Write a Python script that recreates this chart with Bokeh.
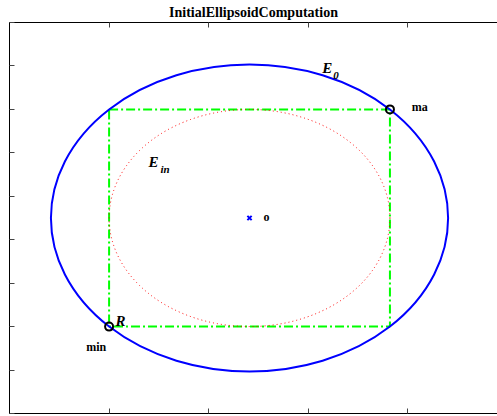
import numpy as np
from bokeh.plotting import figure
from bokeh.models import LinearAxis, FixedTicker, Range1d, CustomJSTickFormatter
from bokeh.core.properties import value
from bokeh.embed import file_html
from bokeh.resources import INLINE

# ---- data ----
title_text = "InitialEllipsoidComputation"
center_xy = [2.41, 4.5]          # ellipsoid centre "o"
min_xy = [1.0, 2.0]              # bounding box min corner
max_xy = [3.82, 7.0]             # bounding box max corner
x_ticks = [0, 1, 2, 3, 4]
y_ticks = [0, 1, 2, 3, 4, 5, 6, 7, 8, 9]
x_limits = [0, 4.9]
y_limits = [0, 9.0]

point_labels = ["ma", "min", "o"]
point_label_x = [4.04, 0.77, 2.55]
point_label_y = [7.06, 1.53, 4.53]

# ---- derived geometry ----
box_w = max_xy[0] - min_xy[0]
box_h = max_xy[1] - min_xy[1]
inner_w, inner_h = box_w, box_h
outer_w, outer_h = box_w * np.sqrt(2), box_h * np.sqrt(2)

serif = value("Liberation Serif")

p = figure(width=497, height=416, output_backend="svg", toolbar_location=None,
           x_range=Range1d(*x_limits), y_range=Range1d(*y_limits),
           min_border_left=9, min_border_right=0, min_border_bottom=3, min_border_top=22,
           title=title_text)
p.title.align = "center"
p.title.text_font = "Liberation Serif"
p.title.text_font_style = "bold"
p.title.text_font_size = "14px"
p.title.text_color = "black"
p.title.text_line_height = 0.9
p.title.standoff = 5
p.outline_line_color = None
p.xgrid.visible = False
p.ygrid.visible = False

top_axis = LinearAxis()
p.add_layout(top_axis, "above")

blank = CustomJSTickFormatter(code="return ''")
for ax, ticks in [(p.below[0], x_ticks), (top_axis, x_ticks), (p.left[0], y_ticks)]:
    ax.ticker = FixedTicker(ticks=ticks)
    ax.formatter = blank
    ax.major_tick_in = 5
    ax.major_tick_out = 0
    ax.minor_tick_line_color = None
    ax.major_label_standoff = 0
    ax.axis_line_color = "black"
    ax.major_tick_line_color = "#444444"

# bounding box (dash-dot green)
p.quad(left=[min_xy[0]], right=[max_xy[0]], bottom=[min_xy[1]], top=[max_xy[1]],
       fill_color=None, line_color="#00ff00", line_width=2, line_dash="9 3 2 3")

# inner ellipse (dotted red)
p.ellipse(x=[center_xy[0]], y=[center_xy[1]], width=[inner_w], height=[inner_h],
          fill_color=None, line_color="#ff0000", line_width=1, line_dash="1 3")

# outer ellipse E0 (blue)
p.ellipse(x=[center_xy[0]], y=[center_xy[1]], width=[outer_w], height=[outer_h],
          fill_color=None, line_color="#0000ff", line_width=2)

# corners
p.scatter(x=[min_xy[0], max_xy[0]], y=[min_xy[1], max_xy[1]], marker="circle", size=8,
          fill_color=None, line_color="black", line_width=2)
# centre
p.scatter(x=[center_xy[0]], y=[center_xy[1]], marker="x", size=6,
          line_color="#0000ff", line_width=2)

# point labels
p.text(x=point_label_x, y=point_label_y, text=point_labels, text_font=serif,
       text_font_style="bold", text_font_size="12px", text_align="left",
       text_baseline="alphabetic", text_color="black")

# E0, Ein, R labels
p.text(x=[3.14, 1.396, 1.064], y=[7.96, 5.79, 2.12], text=["E", "E", "R"], text_font=serif,
       text_font_style="bold italic", text_font_size="15px", text_align="left",
       text_baseline="alphabetic", text_color="black")
p.text(x=[3.25, 1.516], y=[7.79, 5.63], text=["0", "in"], text_font=serif,
       text_font_style="bold italic", text_font_size="11px", text_align="left",
       text_baseline="alphabetic", text_color="black")

open("out.html", "w").write(file_html(p, INLINE))
